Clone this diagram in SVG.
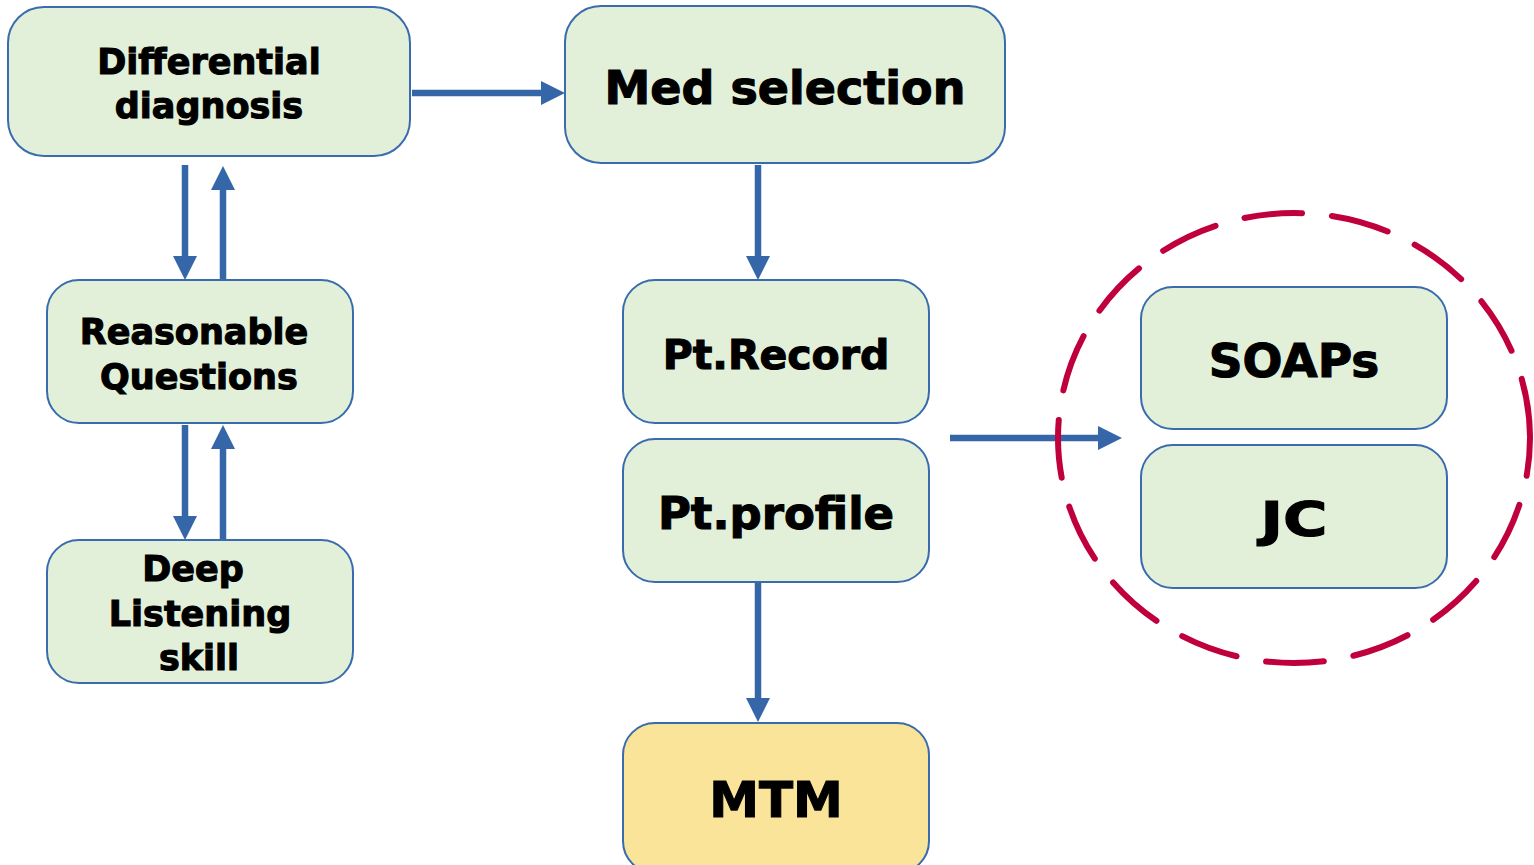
<svg xmlns="http://www.w3.org/2000/svg" width="1534" height="865" viewBox="0 0 1534 865">
<style>
.box{fill:#E2F0D9;stroke:#3A6BAD;stroke-width:2}
.gold{fill:#FAE499;stroke:#3A6BAD;stroke-width:2}
.t{font-family:"DejaVu Sans","Liberation Sans",sans-serif;font-weight:bold;fill:#000;stroke:#000;stroke-width:1.1;text-anchor:middle}
.ar{stroke:#3566A8;stroke-width:6.5;fill:none;marker-end:url(#ah)}
</style>
<defs>
<marker id="ah" markerUnits="userSpaceOnUse" markerWidth="24" markerHeight="24" refX="2" refY="12" orient="auto" viewBox="0 0 24 24">
<path d="M0,0 L24,12 L0,24 z" fill="#3566A8"/>
</marker>
</defs>
<g id="connectors">
<line class="ar" x1="412" y1="93" x2="543" y2="93"/>
<line class="ar" x1="185" y1="165" x2="185" y2="258"/>
<line class="ar" x1="223" y1="280" x2="223" y2="188"/>
<line class="ar" x1="185" y1="425" x2="185" y2="518"/>
<line class="ar" x1="223" y1="540" x2="223" y2="447"/>
<line class="ar" x1="758" y1="165" x2="758" y2="258"/>
<line class="ar" x1="950" y1="438" x2="1100" y2="438"/>
<line class="ar" x1="758" y1="583" x2="758" y2="700"/>
</g>
<g id="group-circle">
<ellipse cx="1294" cy="438" rx="236" ry="225" fill="none" stroke="#C0003C" stroke-width="6" stroke-dasharray="58 30" stroke-dashoffset="20" stroke-linecap="round"/>
</g>
<g id="n-differential">
<rect class="box" x="8" y="7" width="402" height="149" rx="36"/>
<text class="t" font-size="35" x="209" y="74">Differential</text>
<text class="t" font-size="35" x="209" y="118">diagnosis</text>
</g>
<g id="n-med">
<rect class="box" x="565" y="6" width="440" height="157" rx="36"/>
<text class="t" font-size="46" x="785" y="104">Med selection</text>
</g>
<g id="n-reasonable">
<rect class="box" x="47" y="280" width="306" height="143" rx="32"/>
<text class="t" font-size="35" x="194" y="344">Reasonable</text>
<text class="t" font-size="35" x="199" y="389">Questions</text>
</g>
<g id="n-deep">
<rect class="box" x="47" y="540" width="306" height="143" rx="32"/>
<text class="t" font-size="35" x="193" y="581">Deep</text>
<text class="t" font-size="35" x="200" y="626">Listening</text>
<text class="t" font-size="35" x="199" y="670">skill</text>
</g>
<g id="n-record">
<rect class="box" x="623" y="280" width="306" height="143" rx="32"/>
<text class="t" font-size="41" x="776" y="369">Pt.Record</text>
</g>
<g id="n-profile">
<rect class="box" x="623" y="439" width="306" height="143" rx="32"/>
<text class="t" font-size="45" x="776" y="529">Pt.profile</text>
</g>
<g id="n-soaps">
<rect class="box" x="1141" y="287" width="306" height="142" rx="32"/>
<text class="t" font-size="47" x="1294" y="377">SOAPs</text>
</g>
<g id="n-jc">
<rect class="box" x="1141" y="445" width="306" height="143" rx="32"/>
<text class="t" font-size="48" x="1294" y="536" textLength="67" lengthAdjust="spacingAndGlyphs">JC</text>
</g>
<g id="n-mtm">
<rect class="gold" x="623" y="723" width="306" height="150" rx="32"/>
<text class="t" font-size="50" x="776" y="817">MTM</text>
</g>
</svg>
